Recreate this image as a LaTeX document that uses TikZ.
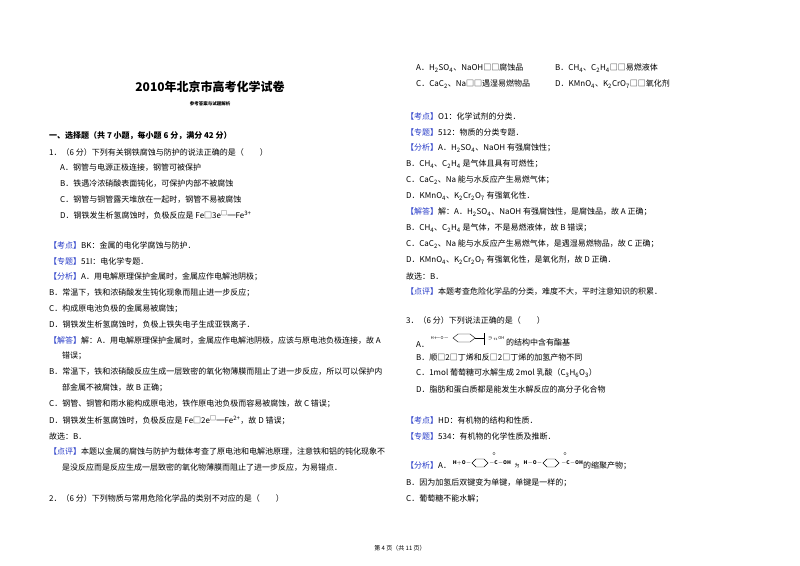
\documentclass[tikz,border=0pt]{standalone}
\usepackage{fontspec}
\setmainfont{Noto Sans CJK SC}
\definecolor{kblue}{RGB}{40,60,200}
\newcommand\kd[1]{{\color{kblue}【#1】}}
\newcommand\subx[1]{\textsubscript{#1}}
\newcommand\spp[1]{\textsuperscript{#1}}
\newcommand\Ln[4]{\node[txt] (#1) at (#2,#3) {#4};}
\tikzset{txt/.style={anchor=west,inner sep=0pt,font=\fontsize{8}{9}\selectfont},
  bond/.style={line width=0.4pt}}
\begin{document}
\begin{tikzpicture}[x=1pt,y=-1pt]
\useasboundingbox[fill=white] (0,0) rectangle (800,565);
\node[inner sep=0pt,font=\fontsize{12}{14}\bfseries] (title) at (210,87) {2010年北京市高考化学试卷};
\node[inner sep=0pt,font=\fontsize{4.5}{5}\bfseries] (subt) at (210,104) {参考答案与试题解析};
\node[txt,font=\fontsize{8}{9}\bfseries] (h1) at (49,136) {一、选择题（共 7 小题，每小题 6 分，满分 42 分）};
\Ln{q1}{49}{152}{1．（6 分）下列有关钢铁腐蚀与防护的说法正确的是（\quad\quad）}
\Ln{q1a}{60}{168}{A．钢管与电源正极连接，钢管可被保护}
\Ln{q1b}{60}{184}{B．铁遇冷浓硝酸表面钝化，可保护内部不被腐蚀}
\Ln{q1c}{60}{200}{C．钢管与铜管露天堆放在一起时，钢管不易被腐蚀}
\Ln{q1d}{60}{215}{D．钢铁发生析氢腐蚀时，负极反应是 Fe□3e\spp{□}═Fe\spp{3+}}
\Ln{k1}{49}{245}{\kd{考点}BK：金属的电化学腐蚀与防护．}
\Ln{z1}{49}{261}{\kd{专题}51I：电化学专题．}
\Ln{f1}{49}{277}{\kd{分析}A．用电解原理保护金属时，金属应作电解池阴极；}
\Ln{f1b}{49}{293}{B．常温下，铁和浓硝酸发生钝化现象而阻止进一步反应；}
\Ln{f1c}{49}{309}{C．构成原电池负极的金属易被腐蚀；}
\Ln{f1d}{49}{325}{D．钢铁发生析氢腐蚀时，负极上铁失电子生成亚铁离子．}
\Ln{j1}{49}{341}{\kd{解答}解：A．用电解原理保护金属时，金属应作电解池阴极，应该与原电池负极连接，故 A}
\Ln{j1a}{62}{356}{错误；}
\Ln{j1b}{49}{372}{B．常温下，铁和浓硝酸反应生成一层致密的氧化物薄膜而阻止了进一步反应，所以可以保护内}
\Ln{j1b2}{62}{388}{部金属不被腐蚀，故 B 正确；}
\Ln{j1c}{49}{404}{C．钢管、铜管和雨水能构成原电池，铁作原电池负极而容易被腐蚀，故 C 错误；}
\Ln{j1d}{49}{420}{D．钢铁发生析氢腐蚀时，负极反应是 Fe□2e\spp{□}═Fe\spp{2+}，故 D 错误；}
\Ln{g1}{49}{436}{故选：B．}
\Ln{d1}{49}{452}{\kd{点评}本题以金属的腐蚀与防护为载体考查了原电池和电解池原理，注意铁和铝的钝化现象不}
\Ln{d1b}{62}{468}{是没反应而是反应生成一层致密的氧化物薄膜而阻止了进一步反应，为易错点．}
\Ln{q2}{49}{498}{2．（6 分）下列物质与常用危险化学品的类别不对应的是（\quad\quad）}
% right column
\Ln{q2a}{416}{68}{A．H\subx{2}SO\subx{4}、NaOH□□腐蚀品}
\Ln{q2b}{555}{68}{B．CH\subx{4}、C\subx{2}H\subx{4}□□易燃液体}
\Ln{q2c}{416}{84}{C．CaC\subx{2}、Na□□遇湿易燃物品}
\Ln{q2d}{555}{84}{D．KMnO\subx{4}、K\subx{2}CrO\subx{7}□□氧化剂}
\Ln{k2}{406}{116}{\kd{考点}O1：化学试剂的分类．}
\Ln{z2}{406}{132}{\kd{专题}512：物质的分类专题．}
\Ln{f2}{406}{148}{\kd{分析}A．H\subx{2}SO\subx{4}、NaOH 有强腐蚀性；}
\Ln{f2b}{406}{164}{B．CH\subx{4}、C\subx{2}H\subx{4} 是气体且具有可燃性；}
\Ln{f2c}{406}{180}{C．CaC\subx{2}、Na 能与水反应产生易燃气体；}
\Ln{f2d}{406}{196}{D．KMnO\subx{4}、K\subx{2}Cr\subx{2}O\subx{7} 有强氧化性．}
\Ln{j2}{406}{212}{\kd{解答}解：A．H\subx{2}SO\subx{4}、NaOH 有强腐蚀性，是腐蚀品，故 A 正确；}
\Ln{j2b}{406}{228}{B．CH\subx{4}、C\subx{2}H\subx{4} 是气体，不是易燃液体，故 B 错误；}
\Ln{j2c}{406}{244}{C．CaC\subx{2}、Na 能与水反应产生易燃气体，是遇湿易燃物品，故 C 正确；}
\Ln{j2d}{406}{260}{D．KMnO\subx{4}、K\subx{2}Cr\subx{2}O\subx{7} 有强氧化性，是氧化剂，故 D 正确．}
\Ln{g2}{406}{276}{故选：B．}
\Ln{d2}{406}{292}{\kd{点评}本题考查危险化学品的分类，难度不大，平时注意知识的积累．}
\Ln{q3}{406}{320}{3．（6 分）下列说法正确的是（\quad\quad）}
\Ln{q3a}{416}{345}{A．}
\node[inner sep=0pt,font=\fontsize{4}{4}\selectfont] (sa) at (440,338) {H$\leftarrow$O$-$};
\draw[bond] (453,338) -- (458,334) -- (470,334) -- (475,338) -- (470,342) -- (458,342) -- cycle;
\draw[bond] (475,338) -- (484,338);
\draw[bond] (484,333) -- (484,345);
\node[inner sep=0pt,font=\fontsize{4}{4}\selectfont] (sb) at (496,338) {$\ni$ $_n$OH};
\Ln{q3at}{506}{342}{的结构中含有酯基}
\Ln{q3b}{416}{357}{B．顺□2□丁烯和反□2□丁烯的加氢产物不同}
\Ln{q3c}{416}{373}{C．1mol 葡萄糖可水解生成 2mol 乳酸（C\subx{3}H\subx{6}O\subx{3}）}
\Ln{q3d}{416}{389}{D．脂肪和蛋白质都是能发生水解反应的高分子化合物}
\Ln{k3}{406}{420}{\kd{考点}HD：有机物的结构和性质．}
\Ln{z3}{406}{436}{\kd{专题}534：有机物的化学性质及推断．}
\Ln{f3}{406}{465}{\kd{分析}A．}
\node[inner sep=0pt,font=\fontsize{5}{5}\bfseries] (s1) at (462,463) {H$+$O$-$};
\draw[bond] (472,463) -- (476,459) -- (484,459) -- (488,463) -- (484,467) -- (476,467) -- cycle;
\node[inner sep=0pt,font=\fontsize{5}{5}\bfseries] (s2) at (500,463) {$-$C$-$OH};
\node[inner sep=0pt,font=\fontsize{4}{4}\selectfont] (s2o) at (494,454) {O};
\node[inner sep=0pt,font=\fontsize{5}{5}\selectfont] (wei) at (517,466) {为};
\node[inner sep=0pt,font=\fontsize{5}{5}\bfseries] (s3) at (533,463) {H$-$O$-$};
\draw[bond] (543,463) -- (547,459) -- (555,459) -- (559,463) -- (555,467) -- (547,467) -- cycle;
\node[inner sep=0pt,font=\fontsize{4}{4}\selectfont] (s3o) at (565,454) {O};
\node[inner sep=0pt,font=\fontsize{5}{5}\bfseries] (s4) at (572,463) {$-$C$-$OH};
\Ln{f3t}{583}{466}{的缩聚产物；}
\Ln{f3b}{406}{483}{B．因为加氢后双键变为单键，单键是一样的；}
\Ln{f3c}{406}{499}{C．葡萄糖不能水解；}
\node[inner sep=0pt,font=\fontsize{6}{7}\selectfont] (foot) at (400,548) {第 4 页（共 11 页）};
\end{tikzpicture}
\end{document}
